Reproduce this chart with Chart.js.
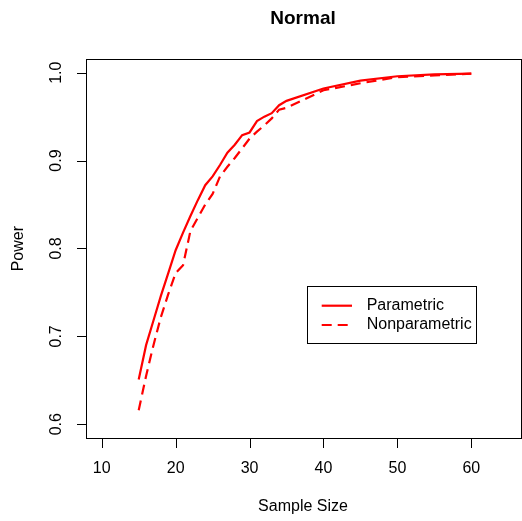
<!DOCTYPE html>
<html>
<head>
<meta charset="utf-8">
<script src="https://cdn.jsdelivr.net/npm/chart.js@4.4.0/dist/chart.umd.min.js"></script>
<style>
  body { margin: 0; background: #fff; }
  canvas { display: block; }
</style>
</head>
<body>
<canvas id="powerChart" width="522" height="521"></canvas>
<script>
// Datos
const sampleSizes = [15, 16, 17, 18, 19, 20, 21, 22, 23, 24, 25, 26, 27, 28, 29, 30, 31, 32, 33, 34, 35, 40, 45, 50, 55, 60];
const parametric = [0.651, 0.690, 0.718, 0.746, 0.772, 0.798, 0.818, 0.837, 0.855, 0.872, 0.882, 0.895, 0.909, 0.918, 0.929, 0.932, 0.945, 0.950, 0.954, 0.963, 0.968, 0.982, 0.991, 0.996, 0.998, 0.999];
const nonparametric = [0.616, 0.655, 0.690, 0.722, 0.748, 0.772, 0.781, 0.820, 0.835, 0.850, 0.862, 0.882, 0.893, 0.903, 0.914, 0.925, 0.933, 0.940, 0.948, 0.958, 0.960, 0.980, 0.988, 0.995, 0.997, 0.999];
const xTicks = [10, 20, 30, 40, 50, 60];
const yTicks = [0.6, 0.7, 0.8, 0.9, 1.0];
const seriesNames = ['Parametric', 'Nonparametric'];

const FONT = 'Liberation Sans, Arial, Helvetica, sans-serif';

// Ejes, titulo y leyenda al estilo de R
const rStyle = {
    id: 'rStyle',
    afterDraw(chart) {
        const ctx = chart.ctx;
        const a = chart.chartArea;
        const xs = chart.scales.x;
        const ys = chart.scales.y;
        ctx.save();
        ctx.strokeStyle = '#000';
        ctx.fillStyle = '#000';
        ctx.lineWidth = 1;

        // caja
        ctx.strokeRect(Math.round(a.left) + 0.5, Math.round(a.top) + 0.5,
            Math.round(a.right - a.left), Math.round(a.bottom - a.top));

        // eje x
        const by = Math.round(a.bottom) + 0.5;
        ctx.beginPath();
        ctx.moveTo(xs.getPixelForValue(xTicks[0]), by);
        ctx.lineTo(xs.getPixelForValue(xTicks[xTicks.length - 1]), by);
        xTicks.forEach(t => {
            const px = Math.round(xs.getPixelForValue(t)) + 0.5;
            ctx.moveTo(px, by);
            ctx.lineTo(px, by + 9.5);
        });
        ctx.stroke();
        ctx.font = '16px ' + FONT;
        ctx.textAlign = 'center';
        ctx.textBaseline = 'middle';
        xTicks.forEach(t => {
            ctx.fillText(String(t), xs.getPixelForValue(t), 469);
        });
        ctx.fillText('Sample Size', (a.left + a.right) / 2, 507);

        // eje y
        const lx = Math.round(a.left) + 0.5;
        ctx.beginPath();
        ctx.moveTo(lx, ys.getPixelForValue(yTicks[0]));
        ctx.lineTo(lx, ys.getPixelForValue(yTicks[yTicks.length - 1]));
        yTicks.forEach(t => {
            const py = Math.round(ys.getPixelForValue(t)) + 0.5;
            ctx.moveTo(lx, py);
            ctx.lineTo(lx - 9.5, py);
        });
        ctx.stroke();
        yTicks.forEach(t => {
            ctx.save();
            ctx.translate(57, ys.getPixelForValue(t));
            ctx.rotate(-Math.PI / 2);
            ctx.fillText(t.toFixed(1), 0, 0);
            ctx.restore();
        });
        ctx.save();
        ctx.translate(18.5, (a.top + a.bottom) / 2);
        ctx.rotate(-Math.PI / 2);
        ctx.fillText('Power', 0, 0);
        ctx.restore();

        // titulo
        ctx.font = 'bold 19px ' + FONT;
        ctx.fillText('Normal', (a.left + a.right) / 2, 19);

        // leyenda
        ctx.strokeRect(307.5, 286.5, 169, 57);
        ctx.font = '16px ' + FONT;
        ctx.textAlign = 'left';
        const rows = [305.7, 325];
        chart.data.datasets.forEach((ds, i) => {
            ctx.save();
            ctx.strokeStyle = ds.borderColor;
            ctx.lineWidth = ds.borderWidth;
            ctx.setLineDash(ds.borderDash || []);
            ctx.beginPath();
            ctx.moveTo(321.7, rows[i]);
            ctx.lineTo(352, rows[i]);
            ctx.stroke();
            ctx.restore();
            ctx.fillText(ds.label, 366.7, rows[i]);
        });
        ctx.restore();
    }
};

const ctx = document.getElementById('powerChart').getContext('2d');
const chart = new Chart(ctx, {
    type: 'line',
    data: {
        datasets: [{
            label: seriesNames[0],
            data: sampleSizes.map((n, i) => ({ x: n, y: parametric[i] })),
            borderColor: '#ff0000',
            borderWidth: 2.2,
            pointRadius: 0,
            fill: false,
            tension: 0
        }, {
            label: seriesNames[1],
            data: sampleSizes.map((n, i) => ({ x: n, y: nonparametric[i] })),
            borderColor: '#ff0000',
            borderWidth: 2.2,
            borderDash: [10, 6],
            pointRadius: 0,
            fill: false,
            tension: 0
        }]
    },
    options: {
        responsive: false,
        animation: false,
        devicePixelRatio: 1,
        layout: {
            padding: { left: 85.7, top: 59, right: 1.7, bottom: 82.7 }
        },
        scales: {
            x: { type: 'linear', min: 7.83, max: 66.63, display: false },
            y: { type: 'linear', min: 0.584, max: 1.0156, display: false }
        },
        plugins: {
            legend: { display: false },
            title: { display: false },
            tooltip: { enabled: false }
        }
    },
    plugins: [rStyle]
});
</script>
</body>
</html>
